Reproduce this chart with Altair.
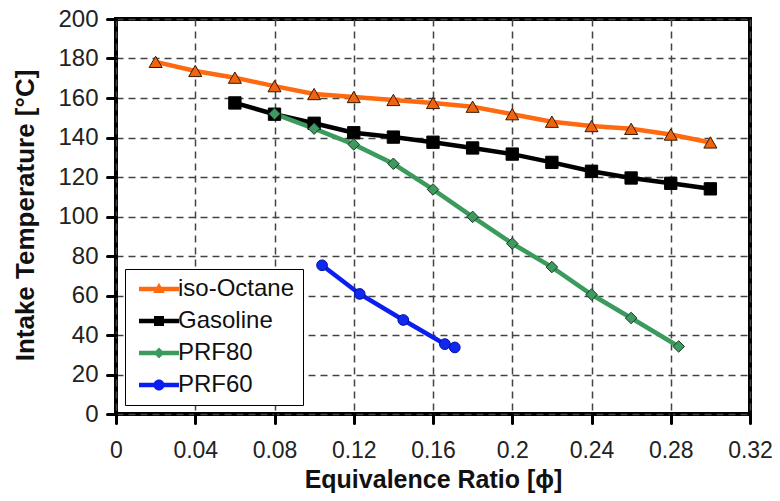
import altair as alt
import pandas as pd

series_names = ["iso-Octane", "Gasoline", "PRF80", "PRF60"]

iso_x = [0.02, 0.04, 0.06, 0.08, 0.10, 0.12, 0.14, 0.16, 0.18, 0.20, 0.22, 0.24, 0.26, 0.28, 0.30]
iso_y = [178.3, 173.7, 170.3, 166.0, 162.0, 160.5, 159.0, 157.5, 155.6, 151.8, 148.0, 145.8, 144.4, 141.5, 137.5]

gas_x = [0.06, 0.08, 0.10, 0.12, 0.14, 0.16, 0.18, 0.20, 0.22, 0.24, 0.26, 0.28, 0.30]
gas_y = [157.5, 151.8, 147.2, 142.4, 140.2, 137.6, 134.7, 131.6, 127.4, 122.9, 119.5, 116.8, 114.0]

prf80_x = [0.08, 0.10, 0.12, 0.14, 0.16, 0.18, 0.20, 0.22, 0.24, 0.26, 0.284]
prf80_y = [152.0, 144.5, 136.5, 126.7, 113.7, 99.8, 86.3, 74.4, 60.5, 48.6, 34.2]

prf60_x = [0.104, 0.123, 0.145, 0.166, 0.171]
prf60_y = [75.3, 60.8, 47.6, 35.4, 33.7]

x_ticks = [0, 0.04, 0.08, 0.12, 0.16, 0.2, 0.24, 0.28, 0.32]
y_ticks = [0, 20, 40, 60, 80, 100, 120, 140, 160, 180, 200]

line_colors = ["#FF6A10", "#000000", "#3A9B5C", "#0A1EF0"]
fill_colors = ["#EE6410", "#000000", "#3E9A60", "#1028F0"]
edge_colors = ["#3A1800", "#000000", "#1A3A26", "#0010A0"]
shapes = ["triangle-up", "square", "diamond", "circle"]
sizes = [170, 115, 115, 140]

legend_paths = [
    "M-4,-0.45H4V0.45H-4Z M0,-1.25L1.15,0.8L-1.15,0.8Z",
    "M-4,-0.45H4V0.45H-4Z M-1,-1H1V1H-1Z",
    "M-4,-0.45H4V0.45H-4Z M0,-1.1L1.1,0L0,1.1L-1.1,0Z",
    "M-4,-0.45H4V0.45H-4Z M-1.1,0A1.1,1.1 0 1,1 1.1,0A1.1,1.1 0 1,1 -1.1,0Z",
]

frames = []
for name, xs, ys in zip(series_names,
                        [iso_x, gas_x, prf80_x, prf60_x],
                        [iso_y, gas_y, prf80_y, prf60_y]):
    frames.append(pd.DataFrame({"phi": xs, "T": ys, "series": name}))
df = pd.concat(frames, ignore_index=True)

W = 634
H = 395
x_enc = alt.X("phi:Q", title="Equivalence Ratio [ϕ]",
              scale=alt.Scale(domain=[0, 0.32], nice=False, zero=False),
              axis=alt.Axis(values=x_ticks, format="~g", labelPadding=16,
                            labelFontSize=23, labelOverlap=False,
                            labelFlush=False, labelBound=False,
                            titleX=W / 2, titleY=73, titleBaseline="alphabetic",
                            titleFontSize=25))
y_enc = alt.Y("T:Q", title="Intake Temperature [°C]",
              scale=alt.Scale(domain=[0, 200], nice=False),
              axis=alt.Axis(values=y_ticks, labelPadding=9,
                            labelOverlap=False, labelFlush=False, labelBound=False,
                            titleX=-91, titleY=196, titleAngle=-90,
                            titleAlign="center", titleBaseline="middle",
                            titleFontSize=26))

base = alt.Chart(df).encode(x=x_enc, y=y_enc)

lines = base.mark_line(strokeWidth=4.5).encode(
    color=alt.Color("series:N", scale=alt.Scale(domain=series_names, range=line_colors),
                    legend=None),
    detail="series:N",
)

points = base.mark_point(filled=True, opacity=1, strokeWidth=1).encode(
    fill=alt.Fill("series:N", scale=alt.Scale(domain=series_names, range=fill_colors),
                  legend=None),
    stroke=alt.Stroke("series:N", scale=alt.Scale(domain=series_names, range=edge_colors),
                      legend=None),
    shape=alt.Shape("series:N", scale=alt.Scale(domain=series_names, range=shapes),
                    legend=None),
    size=alt.Size("series:N", scale=alt.Scale(domain=series_names, range=sizes),
                  legend=None),
)

leg = alt.Legend(
    title=None, orient="none", legendX=9, legendY=250,
    direction="vertical", fillColor="white", strokeColor="black",
    padding=8, rowPadding=8, symbolSize=100, symbolStrokeWidth=0,
    symbolOffset=14, labelOffset=7,
    labelFont="Liberation Sans", labelFontSize=24, labelColor="#111",
)

legend_layer = base.transform_filter("false").mark_point(
    filled=True, size=100, opacity=1
).encode(
    fill=alt.Fill("series:N", scale=alt.Scale(domain=series_names, range=line_colors),
                  legend=leg),
    shape=alt.Shape("series:N", scale=alt.Scale(domain=series_names, range=legend_paths),
                    legend=leg),
)

chart = alt.layer(lines, points, legend_layer).resolve_scale(
    fill="independent", shape="independent"
).properties(
    width=W, height=H,
    padding={"left": 108, "top": 11, "right": 22, "bottom": 79},
    autosize=alt.AutoSizeParams(type="none"),
    background="white",
).configure_view(
    stroke="black", strokeWidth=4,
).configure_axis(
    domain=False, grid=True, gridColor="#444444", gridDash=[7, 5], gridWidth=1.5,
    tickColor="black", tickWidth=3, tickSize=9, tickCap="round",
    labelFont="Liberation Sans", labelFontSize=24, labelColor="#222222",
    titleFont="Liberation Sans", titleFontWeight="bold", titleColor="#111111",
)

chart.save("out.html", embed_options={"renderer": "svg", "actions": False})
